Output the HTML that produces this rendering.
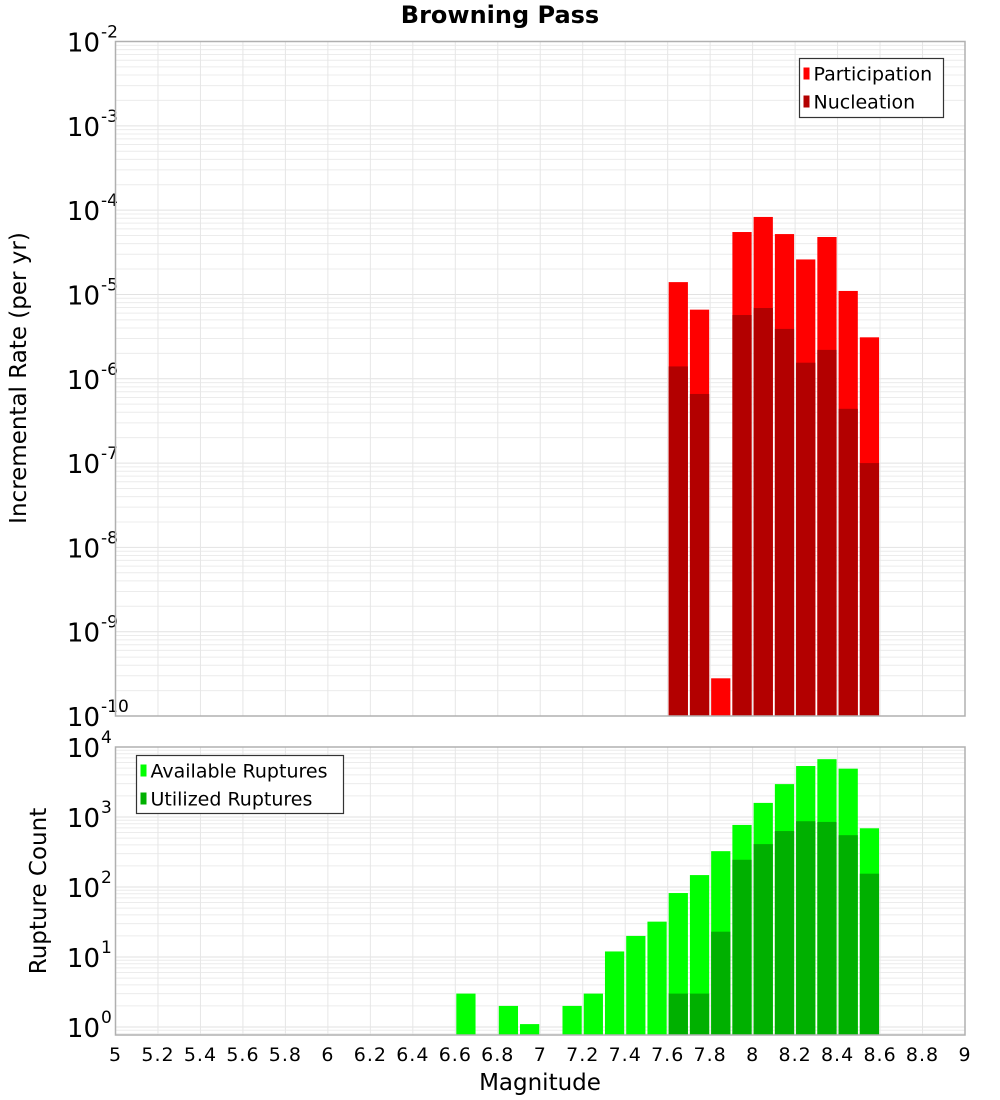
<!DOCTYPE html>
<html><head><meta charset="utf-8"><style>
body{margin:0;background:#fff;}
svg{display:block;font-family:"DejaVu Sans","Liberation Sans",sans-serif;}
</style></head><body>
<svg id="chart" width="1000" height="1100" xmlns="http://www.w3.org/2000/svg">
<text x="500" y="23" text-anchor="middle" font-size="24" font-weight="bold">Browning Pass</text>
<text transform="translate(26,378) rotate(-90)" text-anchor="middle" font-size="23">Incremental Rate (per yr)</text>
<text transform="translate(46,891) rotate(-90)" text-anchor="middle" font-size="23">Rupture Count</text>
<text x="540" y="1090" text-anchor="middle" font-size="23">Magnitude</text>
<g id="top"></g><g id="bot"></g>
</svg>
<script>
const binCenters=[6.65,6.75,6.85,6.95,7.05,7.15,7.25,7.35,7.45,7.55,7.65,7.75,7.85,7.95,8.05,8.15,8.25,8.35,8.45,8.55];
const participation=[0,0,0,0,0,0,0,0,0,0,1.4e-5,6.6e-6,2.8e-10,5.5e-5,8.3e-5,5.2e-5,2.6e-5,4.8e-5,1.1e-5,3.1e-6];
const nucleation=[0,0,0,0,0,0,0,0,0,0,1.4e-6,6.6e-7,0,5.7e-6,6.9e-6,3.9e-6,1.55e-6,2.2e-6,4.4e-7,1.0e-7];
const available=[3,0,2,1.1,0,2,3,12,20,32,82,148,325,770,1590,2950,5350,6700,4900,690];
const utilized=[0,0,0,0,0,0,0,0,0,0,3,3,23,245,410,630,870,850,550,155];
const xTicks=[5,5.2,5.4,5.6,5.8,6,6.2,6.4,6.6,6.8,7,7.2,7.4,7.6,7.8,8,8.2,8.4,8.6,8.8,9];
const topDecades=[-2,-3,-4,-5,-6,-7,-8,-9,-10];
const botDecades=[0,1,2,3,4];

const NS="http://www.w3.org/2000/svg";
const L=115.5,R=965,binW=0.1;
const xS=m=>L+(m-5)*(R-L)/4;
function mk(p,t,a){const e=document.createElementNS(NS,t);for(const k in a)e.setAttribute(k,a[k]);p.appendChild(e);return e;}
function panel(g,top,bottom,yS,lo,hi,decs,prefix){
  for(let d=Math.floor(lo);d<hi;d++)for(let k=1;k<10;k++){const v=d+Math.log10(k);if(v<lo||v>hi)continue;
    const ln=mk(g,'line',{x1:L,x2:R,y1:yS(v),y2:yS(v),stroke:k==1?'#e2e2e2':'#ececec','stroke-width':1});
    
    }
  xTicks.forEach(t=>{const ln=mk(g,'line',{x1:xS(t),x2:xS(t),y1:top,y2:bottom,stroke:'#e6e6e6','stroke-width':1});
    
    });
  decs.forEach(d=>{const y=yS(d);const t=mk(g,'text',{x:100,y:y+10,'text-anchor':'end','font-size':26});
    t.textContent='10';
    
    
    const s=mk(g,'text',{x:101,y:y-4,'font-size':17});s.textContent=String(d);
    
    });
}
function bars(g,vals,yS,lo,bottom,color,name){
  vals.forEach((v,i)=>{if(!(v>0))return;const ly=Math.log10(v);if(ly<=lo)return;
    const x0=xS(binCenters[i]-binW/2)+1,x1=xS(binCenters[i]+binW/2)-1,y=yS(ly);
    const r=mk(g,'rect',{x:x0,y:y,width:x1-x0,height:bottom-y,fill:color});
    
    });
}
const tT=41.5,tB=716,tLo=-10,tHi=-2;
const yT=v=>tB-(v-tLo)*(tB-tT)/(tHi-tLo);
const gT=document.getElementById('top');
panel(gT,tT,tB,yT,tLo,tHi,topDecades,'top');
bars(gT,participation,yT,tLo,tB,'#ff0000','participation-bar');
bars(gT,nucleation,yT,tLo,tB,'#b30000','nucleation-bar');
let f=mk(gT,'rect',{x:L,y:tT,width:R-L,height:tB-tT,fill:'none',stroke:'#b0b0b0','stroke-width':1.5});

const bT=747,bB=1035,b0=1027,dec=70;
const yB=v=>b0-v*dec;
const bLo=(b0-bB)/dec,bHi=4;
const gB=document.getElementById('bot');
panel(gB,bT,bB,yB,bLo,bHi,botDecades,'bottom');
bars(gB,available,yB,bLo,bB,'#00ff00','available-bar');
bars(gB,utilized,yB,bLo,bB,'#00b000','utilized-bar');
f=mk(gB,'rect',{x:L,y:bT,width:R-L,height:bB-bT,fill:'none',stroke:'#b0b0b0','stroke-width':1.5});

xTicks.forEach(t=>{const e=mk(gB,'text',{x:xS(t),y:1061,'text-anchor':'middle','font-size':19,'letter-spacing':'1'});
  e.textContent=String(t);
  
  });
function legend(x,y,w,h,items,name){const g=mk(document.getElementById('chart'),'g',{});
  
  mk(g,'rect',{x:x,y:y,width:w,height:h,fill:'#fff',stroke:'#333','stroke-width':1.2});
  items.forEach((it,i)=>{const cy=y+15+i*28;mk(g,'rect',{x:x+4,y:cy-6,width:6,height:12,fill:it[1]});
    const t=mk(g,'text',{x:x+14,y:cy+7,'font-size':19});t.textContent=it[0];
    });}
legend(799.5,58.5,144,59,[['Participation','#ff0000'],['Nucleation','#b30000']],'top-legend');
legend(136.5,755.5,207,58,[['Available Ruptures','#00ff00'],['Utilized Ruptures','#00b000']],'bottom-legend');
</script>
</body></html>
